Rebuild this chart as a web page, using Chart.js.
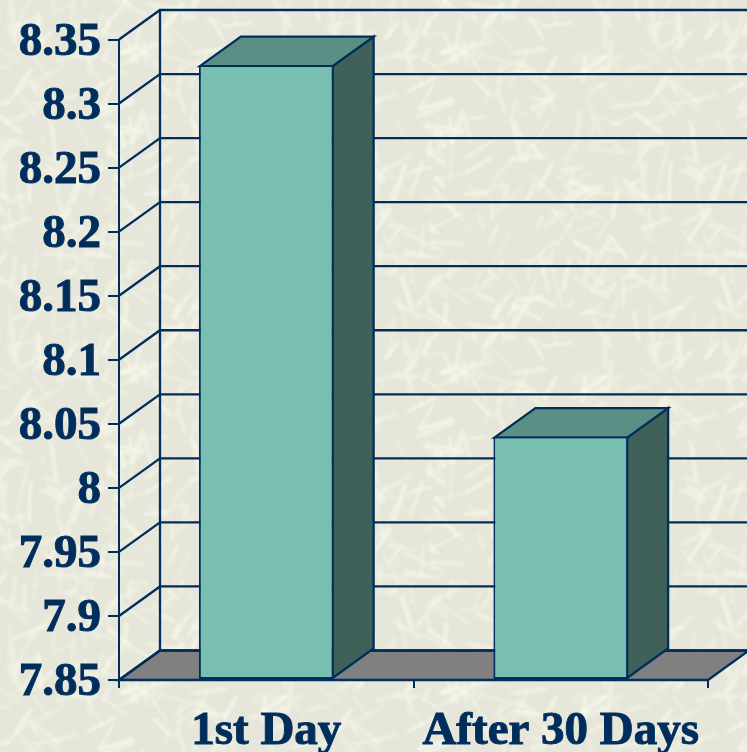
<!DOCTYPE html>
<html>
<head>
<meta charset="utf-8">
<style>
html,body{margin:0;padding:0;width:747px;height:752px;overflow:hidden;background:#E6E7DA}
#wrap{position:relative;width:747px;height:752px}
canvas{display:block}
</style>
<script src="https://cdn.jsdelivr.net/npm/chart.js@4"></script>
</head>
<body>
<div id="wrap"><canvas id="c" width="747" height="752"></canvas></div>
<script>
const categories = ["1st Day", "After 30 Days"];
const seriesValues = [8.33, 8.04];
const tickLabels = ["7.85","7.9","7.95","8","8.05","8.1","8.15","8.2","8.25","8.3","8.35"];
const axisMin = 7.85, axisMax = 8.35;

const INK = "#002E5C", FRONT = "#78BFB1", TOP = "#5B8F85", SIDE = "#3F6159", FLOOR = "#808080";
const DX = 41, DY = -29.5, LINE = 2.3;

// decorative paper texture (fixed sequence, not data)
(function(){
  const S = 320, t = document.createElement("canvas"); t.width = t.height = S;
  const g = t.getContext("2d"); let seed = 12345;
  const r = () => (seed = (seed * 16807) % 2147483647) / 2147483647;
  g.filter = "blur(1.4px)"; g.lineCap = "round";
  for (let i = 0; i < 330; i++) {
    const x = r()*S, y = r()*S, a = r()*Math.PI*2, l = 10 + r()*30;
    g.strokeStyle = "rgba(246,246,234," + (0.35 + r()*0.5) + ")";
    g.lineWidth = 2 + r()*2.5;
    for (const ox of [-S,0,S]) for (const oy of [-S,0,S]) {
      g.beginPath(); g.moveTo(x+ox,y+oy);
      g.lineTo(x+ox+Math.cos(a)*l,y+oy+Math.sin(a)*l); g.stroke();
    }
  }
  document.body.style.backgroundImage = "url(" + t.toDataURL() + ")";
})();

const box3d = {
  id: "box3d",
  beforeDatasetsDraw(chart) {
    const {ctx, chartArea:a, scales:{y}} = chart;
    ctx.save();
    ctx.lineWidth = LINE; ctx.strokeStyle = INK; ctx.lineJoin = "miter";
    ctx.fillStyle = FLOOR; ctx.beginPath();
    ctx.moveTo(a.left,a.bottom); ctx.lineTo(a.left+DX,a.bottom+DY);
    ctx.lineTo(a.right+DX,a.bottom+DY); ctx.lineTo(a.right,a.bottom); ctx.closePath();
    ctx.fill(); ctx.stroke();
    y.ticks.forEach(t => {
      const py = y.getPixelForValue(t.value);
      ctx.beginPath(); ctx.moveTo(a.left,py); ctx.lineTo(a.left+DX,py+DY);
      ctx.lineTo(a.right+DX,py+DY); ctx.stroke();
    });
    ctx.beginPath(); ctx.moveTo(a.left+DX,a.top+DY-1); ctx.lineTo(a.left+DX,a.bottom+DY); ctx.stroke();
    chart.getDatasetMeta(0).data.forEach(b => {
      const l = b.x - b.width/2 + 1, r = b.x + b.width/2 - 1, t = b.y + 1, bt = b.base - 1;
      ctx.fillStyle = SIDE; ctx.beginPath();
      ctx.moveTo(r,bt); ctx.lineTo(r+DX,bt+DY); ctx.lineTo(r+DX,t+DY); ctx.lineTo(r,t); ctx.closePath();
      ctx.fill(); ctx.stroke();
      ctx.fillStyle = TOP; ctx.beginPath();
      ctx.moveTo(l,t); ctx.lineTo(l+DX,t+DY); ctx.lineTo(r+DX,t+DY); ctx.lineTo(r,t); ctx.closePath();
      ctx.fill(); ctx.stroke();
    });
    ctx.restore();
  }
};

const labelFont = { family: "'Liberation Serif'", weight: "bold", size: 47 };

new Chart(document.getElementById("c"), {
  type: "bar",
  data: {
    labels: categories,
    datasets: [{
      data: seriesValues,
      base: axisMin,
      backgroundColor: FRONT,
      borderColor: INK,
      borderWidth: 2,
      borderSkipped: false,
      barPercentage: 0.4575,
      categoryPercentage: 1
    }]
  },
  options: {
    responsive: false,
    animation: false,
    events: [],
    layout: { padding: { top: 39.5, right: 39, left: 0, bottom: 0 } },
    plugins: { legend: { display: false }, tooltip: { enabled: false } },
    scales: {
      x: {
        afterFit(s) { s.height = 72; },
        border: { display: true, color: INK, width: 2 },
        grid: { drawOnChartArea: false, drawTicks: true, color: INK, lineWidth: 2, tickLength: 8 },
        ticks: { color: INK, padding: 16, maxRotation: 0, autoSkip: false,
                 textStrokeColor: INK, textStrokeWidth: 1, font: labelFont }
      },
      y: {
        min: axisMin, max: axisMax,
        afterFit(s) { s.width = 119; },
        afterBuildTicks(s) {
          s.ticks = tickLabels.map(v => ({ value: parseFloat(v) }));
        },
        border: { display: true, color: INK, width: 2 },
        grid: { drawOnChartArea: false, drawTicks: true, color: INK, lineWidth: 2, tickLength: 11 },
        ticks: { color: INK, padding: 7, autoSkip: false, labelOffset: 3,
                 textStrokeColor: INK, textStrokeWidth: 1,
                 callback: (v) => tickLabels.find(t => Math.abs(parseFloat(t) - v) < 1e-6),
                 font: labelFont }
      }
    }
  },
  plugins: [box3d]
});
</script>
</body>
</html>
